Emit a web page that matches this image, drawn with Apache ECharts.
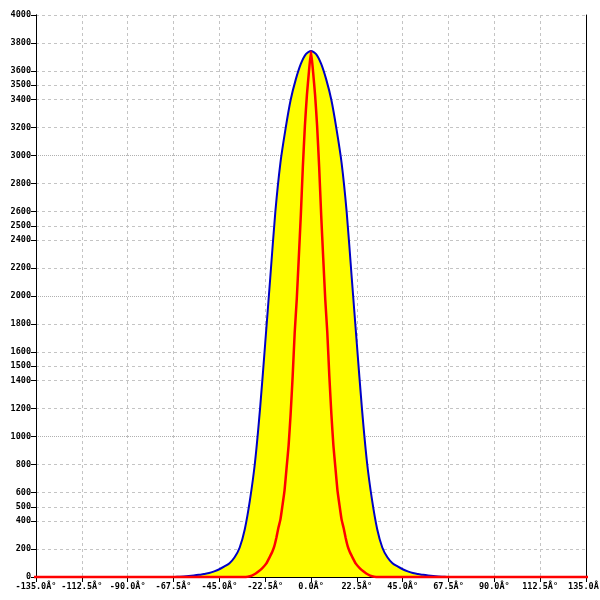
<!DOCTYPE html>
<html>
<head>
<meta charset="utf-8">
<script src="https://cdn.jsdelivr.net/npm/echarts@6/dist/echarts.min.js"></script>
<style>
html,body{margin:0;padding:0;background:#fff;}
#c{width:600px;height:600px;}
</style>
</head>
<body>
<div id="c"></div>
<script>
// x tick settings (degrees)
const xMin = -135, xMax = 135, xStep = 22.5;
// y tick labels
const yTicksDashed = [0,200,400,500,600,800,1200,1400,1500,1600,1800,2200,2400,2500,2600,2800,3200,3400,3500,3600,3800,4000];
const yTicksDotted = [1000,2000,3000];

// blue curve with yellow fill
const blueX = [-90,-67.5,-65,-62.5,-60,-57.5,-55,-52.5,-50,-47.5,-45,-42.5,-40,-37.5,-35,-32.5,-30,-27.5,-25,-22.5,-20,-17.5,-15,-12.5,-10,-7.5,-5,-2.5,0,2.5,5,7.5,10,12.5,15,17.5,20,22.5,25,27.5,30,32.5,35,37.5,40,42.5,45,47.5,50,52.5,55,57.5,60,62.5,65,67.5,90];
const blueY = [0,0,2,4,7,11,16,22,28,40,55,75,98,140,210,340,545,815,1200,1660,2130,2600,2950,3190,3395,3540,3652,3722,3744,3722,3652,3540,3395,3190,2950,2600,2130,1660,1200,815,545,340,210,140,98,75,55,40,28,22,16,11,7,4,2,0,0];

// red narrow curve
const redX = [-180,-32,-30,-28,-26,-24,-22,-20,-19,-18,-17,-16,-15,-14,-13,-12,-11,-10,-9,-8,-7,-6,-5,-4,-3,-2,-1,0,1,2,3,4,5,6,7,8,9,10,11,12,13,14,15,16,17,18,19,20,22,24,26,28,30,32,180];
const redY = [0,0,5,18,38,62,95,150,180,220,280,350,410,510,615,775,935,1160,1430,1740,1975,2270,2575,2920,3210,3432,3598,3740,3598,3432,3210,2920,2575,2270,1975,1740,1430,1160,935,775,615,510,410,350,280,220,180,150,95,62,38,18,5,0,0];

const lblFont = {fontFamily:'DejaVu Sans Mono', fontSize:8.5, fontWeight:'bold', color:'#000'};
const plain = v => String(v);

const chart = echarts.init(document.getElementById('c'), null, {renderer:'canvas'});
chart.setOption({
  backgroundColor:'#fff',
  animation:false,
  grid:{left:36,right:14,top:15,bottom:23,outerBoundsMode:'none',containLabel:false},
  xAxis:{
    type:'value', min:xMin, max:xMax, interval:xStep,
    axisLine:{show:true,onZero:false,lineStyle:{color:'#000',width:1}},
    axisTick:{show:true,length:5,lineStyle:{color:'#000'}},
    axisLabel:Object.assign({margin:5, showMinLabel:true, showMaxLabel:true,
      formatter:v=>v.toFixed(1)+'Â°'}, lblFont),
    splitLine:{show:true,lineStyle:{color:'#c4c4c4',type:[3,3],width:1}}
  },
  yAxis:[
    {
      type:'value', min:0, max:4000, position:'left',
      axisLine:{show:true,onZero:false,lineStyle:{color:'#000',width:1}},
      axisTick:{show:true,length:5,customValues:yTicksDashed,lineStyle:{color:'#000'}},
      axisLabel:Object.assign({margin:5,customValues:yTicksDashed,formatter:plain}, lblFont),
      splitLine:{show:true,lineStyle:{color:'#c4c4c4',type:[3,3],width:1}}
    },
    {
      type:'value', min:0, max:4000, position:'left',
      axisLine:{show:true,onZero:false,lineStyle:{color:'#000',width:1}},
      axisTick:{show:true,length:5,customValues:yTicksDotted,lineStyle:{color:'#000'}},
      axisLabel:Object.assign({margin:5,customValues:yTicksDotted,formatter:plain}, lblFont),
      splitLine:{show:true,lineStyle:{color:'#b0b0b0',type:[1,1],width:1}}
    },
    {
      type:'value', min:0, max:4000, position:'right',
      axisLine:{show:true,onZero:false,lineStyle:{color:'#000',width:1}},
      axisTick:{show:false}, axisLabel:{show:false}, splitLine:{show:false}
    }
  ],
  series:[
    {
      type:'line', name:'blue', data:blueX.map((x,i)=>[x,blueY[i]]),
      symbol:'none', smooth:0.25,
      lineStyle:{color:'#0000c8',width:2},
      areaStyle:{color:'#ffff00',opacity:1},
      z:2
    },
    {
      type:'line', name:'red', data:redX.map((x,i)=>[x,redY[i]]),
      symbol:'none', smooth:0.15, clip:false,
      lineStyle:{color:'#ff0000',width:2.5},
      z:3
    }
  ]
});
</script>
</body>
</html>
